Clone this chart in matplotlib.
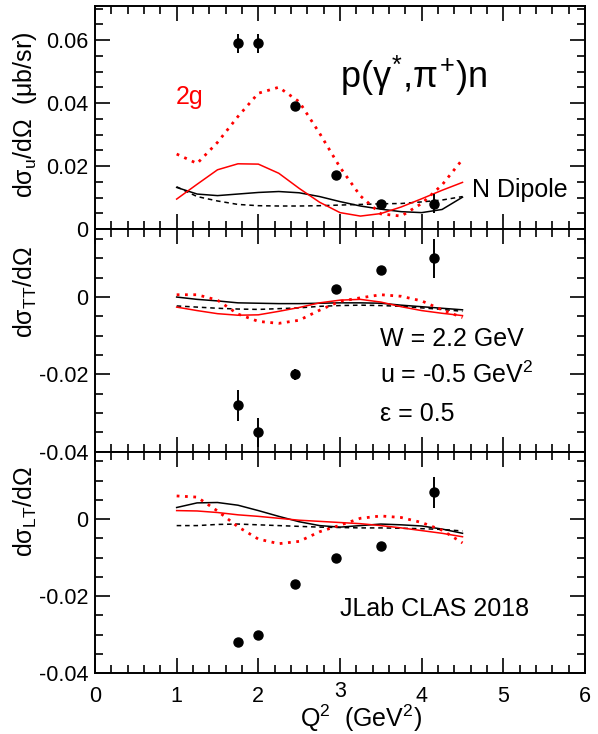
import matplotlib
matplotlib.use("Agg")
import matplotlib.pyplot as plt
from matplotlib.ticker import MultipleLocator, FuncFormatter
import numpy as np

plt.rcParams['font.family'] = ['Liberation Sans', 'DejaVu Sans']
plt.rcParams['mathtext.fontset'] = 'custom'
plt.rcParams['mathtext.rm'] = 'Liberation Sans'
plt.rcParams['mathtext.it'] = 'Liberation Sans'
plt.rcParams['mathtext.bf'] = 'Liberation Sans:bold'
plt.rcParams['axes.unicode_minus'] = False

# data points (Q2 in GeV^2)
q2_data = [1.75, 2.0, 2.45, 2.95, 3.5, 4.15]
sig_u = [0.059, 0.059, 0.039, 0.017, 0.008, 0.008]
sig_u_err = [0.003, 0.003, 0.001, 0.0, 0.0, 0.003]
sig_tt = [-0.028, -0.035, -0.020, 0.002, 0.007, 0.010]
sig_tt_err = [0.004, 0.0037, 0.0015, 0.0, 0.0, 0.005]
sig_lt = [-0.032, -0.030, -0.017, -0.010, -0.007, 0.007]
sig_lt_err = [0.0, 0.0, 0.0, 0.0, 0.0, 0.004]

# model curves
q2_curve = [1.0, 1.25, 1.5, 1.75, 2.0, 2.25, 2.5, 2.75, 3.0, 3.25, 3.5, 3.75, 4.0, 4.25, 4.5]

u_black = [0.0132, 0.0111, 0.0106, 0.0111, 0.0116, 0.0119, 0.0115, 0.0103, 0.0087, 0.0073,
           0.0063, 0.0055, 0.0052, 0.0062, 0.0101]
u_black_dash = [0.0134, 0.0103, 0.0089, 0.0078, 0.0074, 0.0073, 0.0073, 0.0074, 0.0076, 0.0078,
                0.0080, 0.0081, 0.0086, 0.0092, 0.0103]
u_red = [0.0095, 0.0142, 0.0188, 0.0207, 0.0206, 0.0177, 0.0129, 0.0085, 0.0052, 0.0041,
         0.0049, 0.0070, 0.0096, 0.0123, 0.0148]
u_red_dot = [0.0238, 0.0208, 0.0275, 0.0357, 0.0431, 0.0450, 0.0404, 0.0304, 0.0196, 0.0105,
             0.0048, 0.0041, 0.0081, 0.0140, 0.0221]

tt_black = [0.0, -0.0006, -0.0010, -0.0015, -0.0016, -0.0017, -0.0017, -0.0016, -0.0015, -0.0015,
            -0.0016, -0.0021, -0.0025, -0.0029, -0.0033]
tt_black_dash = [-0.0023, -0.0026, -0.0029, -0.0031, -0.0032, -0.0030, -0.0028, -0.0024, -0.0022, -0.0021,
                 -0.0022, -0.0024, -0.0028, -0.0032, -0.0037]
tt_red = [-0.0026, -0.0035, -0.0043, -0.0047, -0.0046, -0.0037, -0.0027, -0.0015, -0.0008, -0.0006,
          -0.0013, -0.0025, -0.0035, -0.0042, -0.0048]
tt_red_dot = [0.0006, 0.0006, -0.0008, -0.0044, -0.0063, -0.0068, -0.0060, -0.0034, -0.0011, -0.0002,
              0.0006, 0.0002, -0.0010, -0.0033, -0.0053]

lt_black = [0.0030, 0.0042, 0.0043, 0.0036, 0.0022, 0.0007, -0.0007, -0.0017, -0.0021, -0.0017,
            -0.0013, -0.0015, -0.0018, -0.0026, -0.0037]
lt_black_dash = [-0.0017, -0.0017, -0.0014, -0.0013, -0.0015, -0.0017, -0.0019, -0.0021, -0.0022, -0.0023,
                 -0.0023, -0.0024, -0.0025, -0.0027, -0.0031]
lt_red = [0.0022, 0.0021, 0.0017, 0.0011, 0.0007, 0.0002, -0.0003, -0.0006, -0.0009, -0.0012,
          -0.0017, -0.0023, -0.0030, -0.0037, -0.0046]
lt_red_dot = [0.0060, 0.0057, 0.0021, -0.0020, -0.0052, -0.0064, -0.0058, -0.0033, -0.0016, 0.0002,
              0.0008, 0.0004, -0.0009, -0.0029, -0.0062]

fig = plt.figure(figsize=(5.98, 7.34), dpi=100)
L, W = 95 / 598, 490 / 598
ax1 = fig.add_axes([L, 505 / 734, W, 223 / 734])
ax2 = fig.add_axes([L, 282.3 / 734, W, 222.7 / 734])
ax3 = fig.add_axes([L, 61 / 734, W, 221.3 / 734])

panels = [
    (ax1, sig_u, sig_u_err, u_black, u_black_dash, u_red, u_red_dot, (0, 0.0708), [0, 0.02, 0.04, 0.06]),
    (ax2, sig_tt, sig_tt_err, tt_black, tt_black_dash, tt_red, tt_red_dot, (-0.04, 0.0176), [-0.04, -0.02, 0]),
    (ax3, sig_lt, sig_lt_err, lt_black, lt_black_dash, lt_red, lt_red_dot, (-0.04, 0.0175), [-0.04, -0.02, 0]),
]

yfmt = FuncFormatter(lambda v, p: '0' if abs(v) < 1e-9 else '%g' % v)
# the "3" label is drawn by hand a bit higher (as in the original), so skip it here
xfmt = FuncFormatter(lambda v, p: '' if abs(v - 3) < 1e-9 else '%g' % v)

for ax, y, yerr, cb, cbd, cr, crd, ylim, yt in panels:
    ax.plot(q2_curve, cbd, color='black', lw=1.1, ls=(0, (3, 2.5)))
    ax.plot(q2_curve, cb, color='black', lw=1.1)
    ax.plot(q2_curve, cr, color='red', lw=1.1)
    ax.plot(q2_curve, crd, color='red', lw=2.0, ls=(0, (1, 2.0)))
    ax.errorbar(q2_data, y, yerr=yerr, fmt='o', color='black', ms=6.5, elinewidth=1.4, capsize=0)
    ax.set_xlim(0, 6)
    ax.set_ylim(*ylim)
    ax.set_yticks(yt)
    ax.yaxis.set_minor_locator(MultipleLocator(0.005))
    ax.xaxis.set_major_locator(MultipleLocator(1))
    ax.xaxis.set_minor_locator(MultipleLocator(0.2))
    ax.yaxis.set_major_formatter(yfmt)
    ax.xaxis.set_major_formatter(xfmt)
    ax.tick_params(which='both', direction='in', top=True, right=True, width=1.2, labelsize=15.5)
    ax.tick_params(which='major', length=11)
    ax.tick_params(which='minor', length=5.5)
    ax.tick_params(axis='y', pad=5)
    ax.tick_params(axis='x', pad=9)
    for s in ax.spines.values():
        s.set_linewidth(1.4)

ax1.tick_params(labelbottom=False)
ax2.tick_params(labelbottom=False)
ax3.text(3, -0.036, '3', transform=ax3.get_xaxis_transform(), ha='center', va='top', fontsize=15.5)

ax1.text(0.5, 0.6345, r'p($\gamma^{*}$,$\pi^{+}$)n', transform=ax1.transAxes, fontsize=26, va='baseline')
ax1.text(0.165, 0.56, '2g', transform=ax1.transAxes, fontsize=18, color='red', va='baseline')
ax1.text(0.769, 0.145, 'N Dipole', transform=ax1.transAxes, fontsize=18, va='baseline')

ax2.text(0.582, 0.475, 'W = 2.2 GeV', transform=ax2.transAxes, fontsize=18, va='baseline')
ax2.text(0.582, 0.307, 'u = -0.5 GeV$^2$', transform=ax2.transAxes, fontsize=18, va='baseline')
ax2.text(0.582, 0.138, 'ε = 0.5', transform=ax2.transAxes, fontsize=18, va='baseline')

ax3.text(0.5, 0.259, 'JLab CLAS 2018', transform=ax3.transAxes, fontsize=18, va='baseline')

fig.text(0.042, (734 - 115) / 734, r'd$\sigma_u$/d$\Omega$  ($\mu$b/sr)', rotation=90,
         ha='center', va='center', fontsize=18)
fig.text(0.042, (734 - 292) / 734, r'd$\sigma_{TT}$/d$\Omega$', rotation=90,
         ha='center', va='center', fontsize=18)
fig.text(0.042, (734 - 512) / 734, r'd$\sigma_{LT}$/d$\Omega$', rotation=90,
         ha='center', va='center', fontsize=18)
fig.text(361 / 598, 0.009, r'Q$^2$  (GeV$^2$)', ha='center', va='baseline', fontsize=18)

fig.savefig('out.png', dpi=100)
